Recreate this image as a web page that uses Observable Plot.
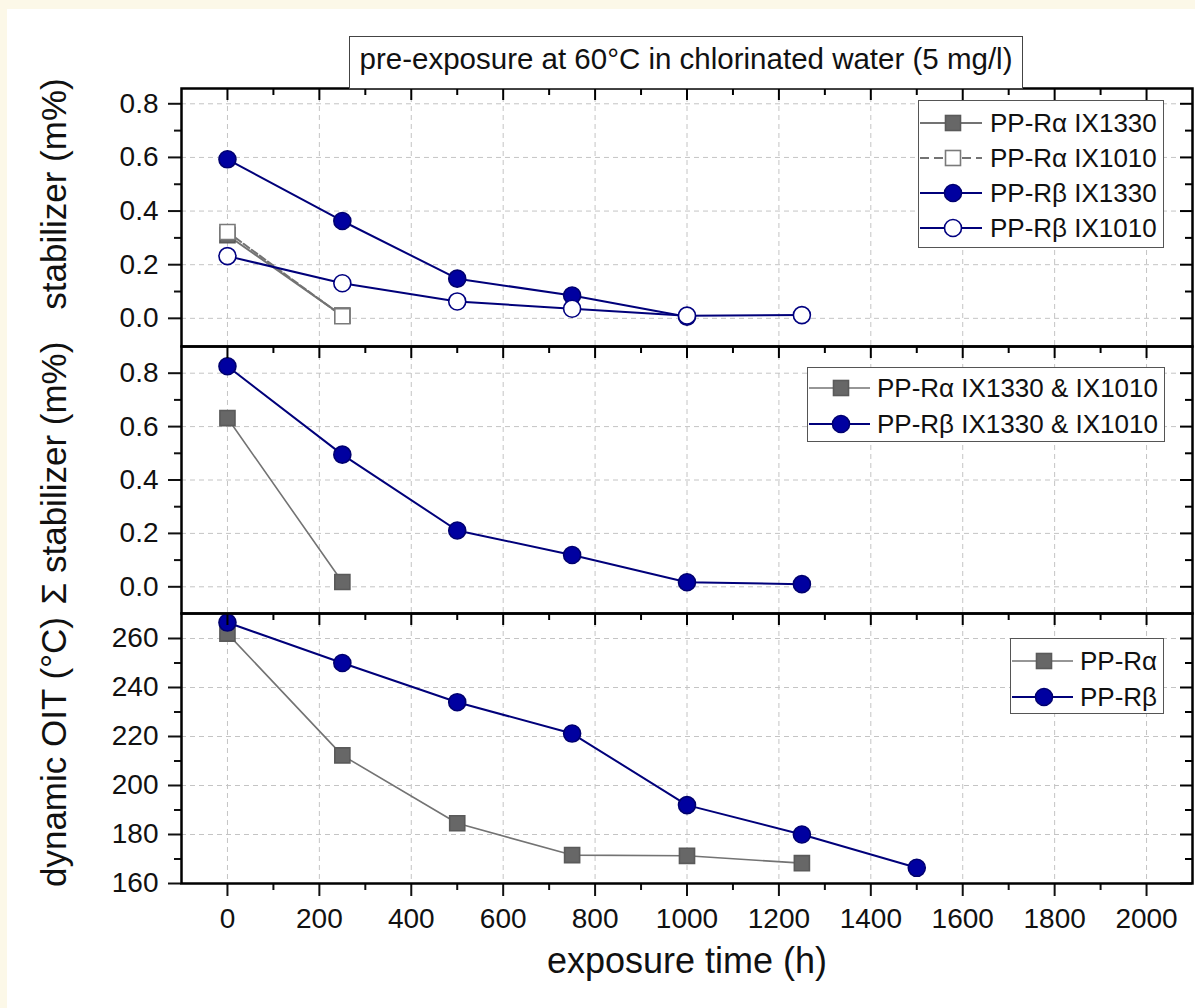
<!DOCTYPE html>
<html><head><meta charset="utf-8">
<script src="https://cdn.jsdelivr.net/npm/d3@7"></script>
<script src="https://cdn.jsdelivr.net/npm/@observablehq/plot@0.6"></script>
<style>
html,body{margin:0;padding:0;background:#fcf8e8;}
#page{position:relative;width:1195px;height:1008px;overflow:hidden;font-family:"Liberation Sans",Arial,sans-serif;color:#111;}
#white{position:absolute;left:7px;top:9px;right:0;bottom:0;background:#fff;}
.layer{position:absolute;left:0;top:0;}
.layer svg{overflow:visible;}
.title{position:absolute;background:#fff;border:1.5px solid #444;box-sizing:border-box;text-align:center;font-size:29.5px;white-space:nowrap;}
.ytitle{position:absolute;font-size:35px;line-height:35px;white-space:nowrap;transform:translate(-50%,-50%) rotate(-90deg);}
.legend{position:absolute;background:#fff;border:1.5px solid #555;box-sizing:border-box;}
.row{position:absolute;left:0;right:0;height:34px;}
.row svg{position:absolute;left:0;top:0;}
.row span{position:absolute;top:0;line-height:34px;font-size:26px;white-space:nowrap;}
</style>
</head>
<body>
<div id="page"><div id="white"></div></div>
<script>
// ---------- data ----------
const titleText = "pre-exposure at 60°C in chlorinated water (5 mg/l)";
const xTitle = "exposure time (h)";
const yTitles = ["stabilizer (m%)", "\u03A3 stabilizer (m%)", "dynamic OIT (\u00B0C)"];
const xMajor = [0, 200, 400, 600, 800, 1000, 1200, 1400, 1600, 1800, 2000];
const xMinor = [100, 300, 500, 700, 900, 1100, 1300, 1500, 1700, 1900];

// top panel: individual stabilizers
const topHoursRa = [0, 250];
const topRa1330 = [0.31, 0.01];
const topRa1010 = [0.322, 0.008];
const topHoursRb1330 = [0, 250, 500, 750, 1000];
const topRb1330 = [0.593, 0.363, 0.148, 0.085, 0.006];
const topHoursRb1010 = [0, 250, 500, 750, 1000, 1250];
const topRb1010 = [0.232, 0.131, 0.063, 0.036, 0.01, 0.012];

// middle panel: sum of stabilizers
const midHoursRa = [0, 250];
const midRa = [0.632, 0.018];
const midHoursRb = [0, 250, 500, 750, 1000, 1250];
const midRb = [0.826, 0.495, 0.211, 0.119, 0.017, 0.01];

// bottom panel: dynamic OIT
const botHoursRa = [0, 250, 500, 750, 1000, 1250];
const botRa = [262, 212.3, 184.6, 171.6, 171.3, 168.3];
const botHoursRb = [0, 250, 500, 750, 1000, 1250, 1500];
const botRb = [266.5, 250, 234, 221.2, 192, 180, 166.4];

const legendTop = ["PP-R\u03B1 IX1330", "PP-R\u03B1 IX1010", "PP-R\u03B2 IX1330", "PP-R\u03B2 IX1010"];
const legendMid = ["PP-R\u03B1 IX1330 & IX1010", "PP-R\u03B2 IX1330 & IX1010"];
const legendBot = ["PP-R\u03B1", "PP-R\u03B2"];

// ---------- styles ----------
const GRAY_LINE = "#737373", GRAY_FILL = "#676767", NAVY_LINE = "#00007a", NAVY_FILL = "#0000a0";
const sty = {
  raFilled: {symbol: "square", line: GRAY_LINE, fill: GRAY_FILL, stroke: "#5a5a5a", lw: 2},
  raOpen:   {symbol: "square", line: GRAY_LINE, fill: "#fff", stroke: "#7a7a7a", lw: 2, dash: "7,3"},
  rbFilled: {symbol: "circle", line: NAVY_LINE, fill: NAVY_FILL, stroke: "#000070", lw: 2},
  rbOpen:   {symbol: "circle", line: NAVY_LINE, fill: "#fff", stroke: "#000080", lw: 2},
  raThin:   {symbol: "square", line: GRAY_LINE, fill: GRAY_FILL, stroke: "#5a5a5a", lw: 1.6},
};
const zip = (h, v) => h.map((d, i) => ({h: d, v: v[i]}));

const W = 1195, H = 1008, LEFT = 181, RIGHT = 1192;
const FONT = "Liberation Sans, Arial, sans-serif";
const page = d3.select("#page");

function panel({top, bottom, domain, major, minor, fmt, series, yTitle, titleY, bottomAxis}) {
  const innerW = RIGHT - LEFT, innerH = bottom - top;
  const tk = {stroke: "black", strokeWidth: 2};
  const marks = [
    Plot.gridX({ticks: xMajor, stroke: "#c4c4c4", strokeOpacity: 1, strokeDasharray: "5,4", strokeWidth: 1}),
    Plot.gridY({ticks: major, stroke: "#c4c4c4", strokeOpacity: 1, strokeDasharray: "5,4", strokeWidth: 1}),
  ];
  for (const s of series) {
    marks.push(Plot.line(s.data, {x: "h", y: "v", stroke: s.style.line, strokeWidth: s.style.lw, strokeDasharray: s.style.dash}));
    marks.push(Plot.dot(s.data, {x: "h", y: "v", symbol: s.style.symbol, r: 8.5, fill: s.style.fill, stroke: s.style.stroke, strokeWidth: 1.6}));
  }
  marks.push(
    Plot.axisY({anchor: "left", ticks: major, tickSize: 13, tickPadding: 10, tickFormat: fmt, fontSize: 28, strokeWidth: 2, label: null}),
    Plot.axisY({anchor: "left", ticks: minor, tickSize: 7, tickFormat: () => "", strokeWidth: 2, label: null}),
    Plot.tickY(major, {y: d => d, insetLeft: innerW - 12, ...tk}),
    Plot.tickY(minor, {y: d => d, insetLeft: innerW - 7, ...tk}),
    Plot.tickX(xMajor, {x: d => d, insetBottom: innerH - 12, ...tk}),
    Plot.tickX(xMinor, {x: d => d, insetBottom: innerH - 7, ...tk})
  );
  if (bottomAxis) {
    marks.push(
      Plot.axisX({anchor: "bottom", ticks: xMajor, tickSize: 13, tickPadding: 12, tickFormat: d => String(d), fontSize: 28, strokeWidth: 2, label: null}),
      Plot.axisX({anchor: "bottom", ticks: xMinor, tickSize: 7, tickFormat: () => "", strokeWidth: 2, label: null}),
      Plot.text([xTitle], {text: d => d, frameAnchor: "bottom", dy: 89, fontSize: 36, fill: "#111"})
    );
  } else {
    marks.push(Plot.axisX({anchor: "bottom", ticks: [], label: null}));
  }
  marks.push(Plot.frame({stroke: "black", strokeWidth: 2.5}));
  const svg = Plot.plot({
    width: W, height: H,
    marginLeft: LEFT, marginRight: W - RIGHT, marginTop: top, marginBottom: H - bottom,
    x: {domain: [-100, 2100]},
    y: {domain},
    style: {fontFamily: FONT, fontSize: "28px", background: "transparent", color: "#111", overflow: "visible"},
    marks
  });
  const layer = document.createElement("div");
  layer.className = "layer";
  layer.appendChild(svg);
  document.getElementById("page").appendChild(layer);
  // rotated y-axis title (HTML text)
  page.append("div").attr("class", "ytitle").style("left", "53px").style("top", titleY + "px").text(yTitle);
}

panel({
  top: 88, bottom: 346, domain: [-0.105, 0.857],
  major: [0, 0.2, 0.4, 0.6, 0.8], minor: [0.1, 0.3, 0.5, 0.7], fmt: d3.format(".1f"),
  yTitle: yTitles[0], titleY: 194,
  series: [
    {data: zip(topHoursRa, topRa1330), style: sty.raFilled},
    {data: zip(topHoursRa, topRa1010), style: sty.raOpen},
    {data: zip(topHoursRb1330, topRb1330), style: sty.rbFilled},
    {data: zip(topHoursRb1010, topRb1010), style: sty.rbOpen},
  ]
});
panel({
  top: 346, bottom: 613, domain: [-0.1, 0.9],
  major: [0, 0.2, 0.4, 0.6, 0.8], minor: [0.1, 0.3, 0.5, 0.7], fmt: d3.format(".1f"),
  yTitle: yTitles[1], titleY: 473,
  series: [
    {data: zip(midHoursRa, midRa), style: sty.raThin},
    {data: zip(midHoursRb, midRb), style: sty.rbFilled},
  ]
});
panel({
  top: 613, bottom: 883, domain: [160, 270.2],
  major: [160, 180, 200, 220, 240, 260], minor: [170, 190, 210, 230, 250], fmt: d3.format("d"),
  yTitle: yTitles[2], titleY: 752, bottomAxis: true,
  series: [
    {data: zip(botHoursRa, botRa), style: sty.raThin},
    {data: zip(botHoursRb, botRb), style: sty.rbFilled},
  ]
});

// ---------- title box ----------
page.append("div").attr("class", "title")
  .style("left", "349px").style("top", "36px").style("width", "674px").style("height", "53px")
  .style("line-height", "44px").text(titleText);

// ---------- legends ----------
function legend(cfg, labels, styles) {
  const box = page.append("div").attr("class", "legend")
    .style("left", cfg.left + "px").style("top", cfg.top + "px")
    .style("width", cfg.w + "px").style("height", cfg.h + "px");
  labels.forEach((lab, i) => {
    const s = styles[i];
    const row = box.append("div").attr("class", "row").style("top", (cfg.rows[i] - 17) + "px");
    const svg = row.append("svg").attr("width", cfg.lineW).attr("height", 34);
    svg.append("line").attr("x1", 1).attr("x2", cfg.lineW - 1).attr("y1", 17).attr("y2", 17)
      .attr("stroke", s.line).attr("stroke-width", s.lw).attr("stroke-dasharray", s.dash ? "9,5" : null);
    if (s.symbol === "square") {
      svg.append("rect").attr("x", cfg.sym - 7.5).attr("y", 9.5).attr("width", 15).attr("height", 15)
        .attr("fill", s.fill).attr("stroke", s.stroke).attr("stroke-width", 1.6);
    } else {
      svg.append("circle").attr("cx", cfg.sym).attr("cy", 17).attr("r", 8.5)
        .attr("fill", s.fill).attr("stroke", s.stroke).attr("stroke-width", 1.6);
    }
    row.append("span").style("left", cfg.textX + "px").text(lab);
  });
}
legend({left: 918, top: 100, w: 246, h: 148, rows: [22, 57, 92, 127], sym: 34, lineW: 64, textX: 71},
  legendTop, [sty.raFilled, sty.raOpen, sty.rbFilled, sty.rbOpen]);
legend({left: 807, top: 367, w: 358, h: 75, rows: [20, 56], sym: 33, lineW: 63, textX: 69},
  legendMid, [sty.raThin, sty.rbFilled]);
legend({left: 1010, top: 638, w: 154, h: 76, rows: [22, 58], sym: 33, lineW: 63, textX: 69},
  legendBot, [sty.raThin, sty.rbFilled]);
</script>
</body></html>
